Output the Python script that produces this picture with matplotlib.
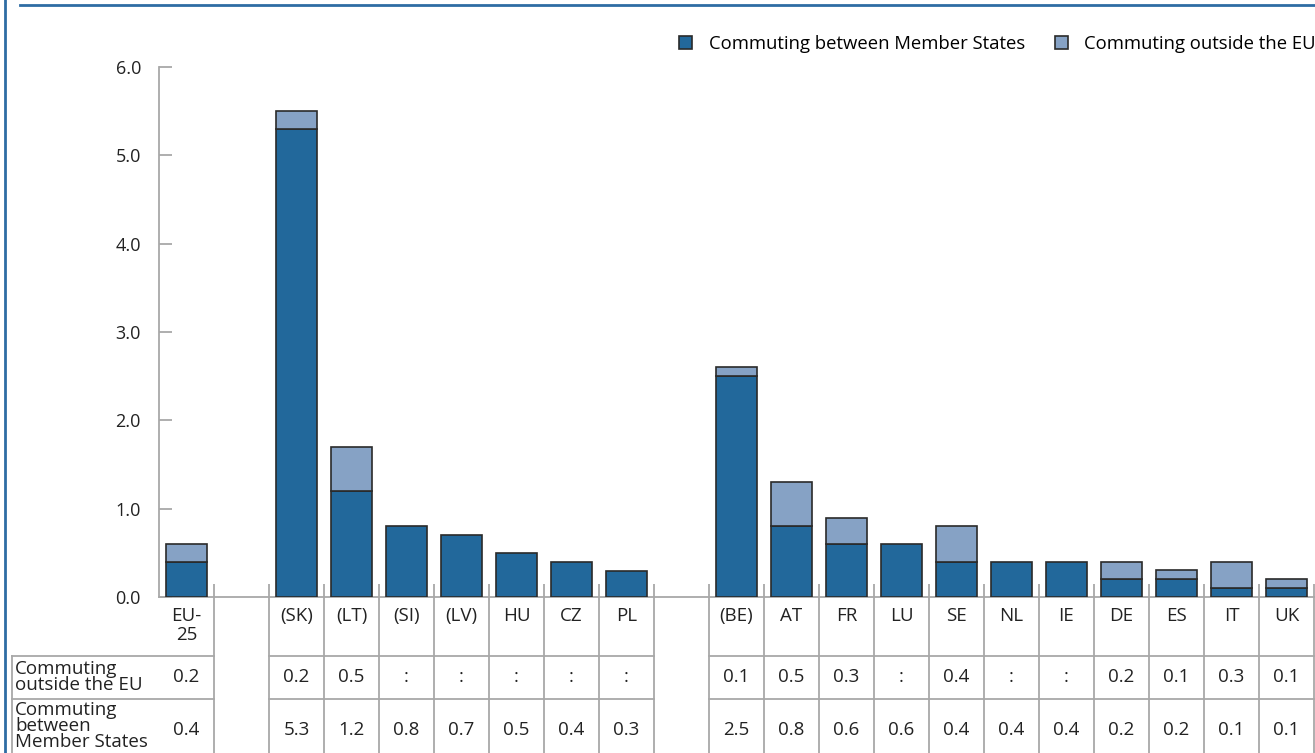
import numpy as np
import matplotlib
matplotlib.use("Agg")
import matplotlib.pyplot as plt
from matplotlib.lines import Line2D
from matplotlib.transforms import blended_transform_factory

plt.rcParams['font.family'] = ['Open Sans', 'DejaVu Sans']

# data
labels = ['EU-\n25', '(SK)', '(LT)', '(SI)', '(LV)', 'HU', 'CZ', 'PL',
          '(BE)', 'AT', 'FR', 'LU', 'SE', 'NL', 'IE', 'DE', 'ES', 'IT', 'UK']
group_sizes = [1, 7, 11]
between = [0.4, 5.3, 1.2, 0.8, 0.7, 0.5, 0.4, 0.3,
           2.5, 0.8, 0.6, 0.6, 0.4, 0.4, 0.4, 0.2, 0.2, 0.1, 0.1]
outside = [0.2, 0.2, 0.5, None, None, None, None, None,
           0.1, 0.5, 0.3, None, 0.4, None, None, 0.2, 0.1, 0.3, 0.1]
row_names = ['Commuting\noutside the EU', 'Commuting\nbetween\nMember States']
yticks = [0, 1, 2, 3, 4, 5, 6]

dark = '#22689b'
light = '#86a2c5'
edge = '#2a2a2a'
grid = '#a8a8a8'
txt = '#222222'
W, H = 1315, 753
fs = 13.5

# slot positions, one empty slot between groups
slots = []
pos = 0
for g in group_sizes:
    for i in range(g):
        slots.append(pos)
        pos += 1
    pos += 1
nslots = pos - 1
x = np.array(slots) + 0.5

fig = plt.figure(figsize=(W / 100, H / 100), dpi=100)
ax_l, ax_r, ax_t, ax_b = 159, 1314, 67, 597
ax = fig.add_axes([ax_l / W, 1 - ax_b / H, (ax_r - ax_l) / W, (ax_b - ax_t) / H])

b = np.array(between)
o = np.array([v if v is not None else 0 for v in outside])
ax.bar(x, b, width=0.73, color=dark, edgecolor=edge, lw=1.2, zorder=3,
       label='Commuting between Member States')
has_o = o > 0
ax.bar(x[has_o], o[has_o], bottom=b[has_o], width=0.73, color=light,
       edgecolor=edge, lw=1.2, zorder=3, label='Commuting outside the EU')

ax.set_xlim(0, nslots)
ax.set_ylim(0, 6)
for s in ['top', 'right']:
    ax.spines[s].set_visible(False)
for s in ['left', 'bottom']:
    ax.spines[s].set_color(grid)
    ax.spines[s].set_linewidth(1.3)
ax.set_yticks(yticks)
ax.set_yticklabels(['%.1f' % v for v in yticks], fontsize=13, color=txt)
ax.set_xticks(np.arange(1, nslots + 1))
ax.set_xticklabels([])
ax.tick_params(axis='both', direction='in', length=9.5, width=1.3, color=grid)
ax.tick_params(axis='y', pad=13)

ax.legend(loc='upper right', bbox_to_anchor=(1316 / W, 1 - 35 / H),
          bbox_transform=fig.transFigure, ncol=2, frameon=False,
          handlelength=0.7, handleheight=0.7, handletextpad=0.9,
          columnspacing=1.6, fontsize=13.3, borderaxespad=0, borderpad=0)

# table below the axis
tr = blended_transform_factory(ax.transData, fig.transFigure)
def fy(py):
    return 1 - py / H
unit = (ax_r - ax_l) / nslots
row1, row2, bottom = 656, 699, 760

for bnd in range(1, nslots + 1):
    ax.plot([bnd, bnd], [fy(ax_b), fy(bottom)], transform=tr, color=grid,
            lw=1.3, clip_on=False)
left_x = (12 - ax_l) / unit
segs = [(left_x, 1)]
for k in range(1, len(group_sizes)):
    first = slots[sum(group_sizes[:k])]
    last = slots[sum(group_sizes[:k + 1]) - 1] + 1
    segs.append((first, last))
for py in [row1, row2]:
    for a, c in segs:
        ax.plot([a, c], [fy(py), fy(py)], transform=tr, color=grid, lw=1.3,
                clip_on=False)
ax.plot([left_x, left_x], [fy(row1), fy(bottom)], transform=tr, color=grid,
        lw=1.3, clip_on=False)

for xi, lab, bv, ov in zip(x, labels, between, outside):
    ax.text(xi, fy(607), lab, transform=tr, ha='center', va='top',
            fontsize=fs, color=txt, linespacing=1.05)
    ax.text(xi, fy(677), ':' if ov is None else '%.1f' % ov, transform=tr,
            ha='center', va='center', fontsize=fs, color=txt)
    ax.text(xi, fy(730), '%.1f' % bv, transform=tr, ha='center',
            va='center', fontsize=fs, color=txt)

fig.text(15 / W, fy(677), row_names[0], ha='left', va='center', fontsize=fs,
         color=txt, linespacing=0.88)
fig.text(15 / W, fy(726), row_names[1], ha='left', va='center', fontsize=fs,
         color=txt, linespacing=0.86)

# frame lines
fig.add_artist(Line2D([5 / W, 5 / W], [0, 1], color='#2e6ca4', lw=2))
fig.add_artist(Line2D([20 / W, 1], [fy(5), fy(5)], color='#2e6ca4', lw=2))

fig.savefig('out.png', dpi=100)
